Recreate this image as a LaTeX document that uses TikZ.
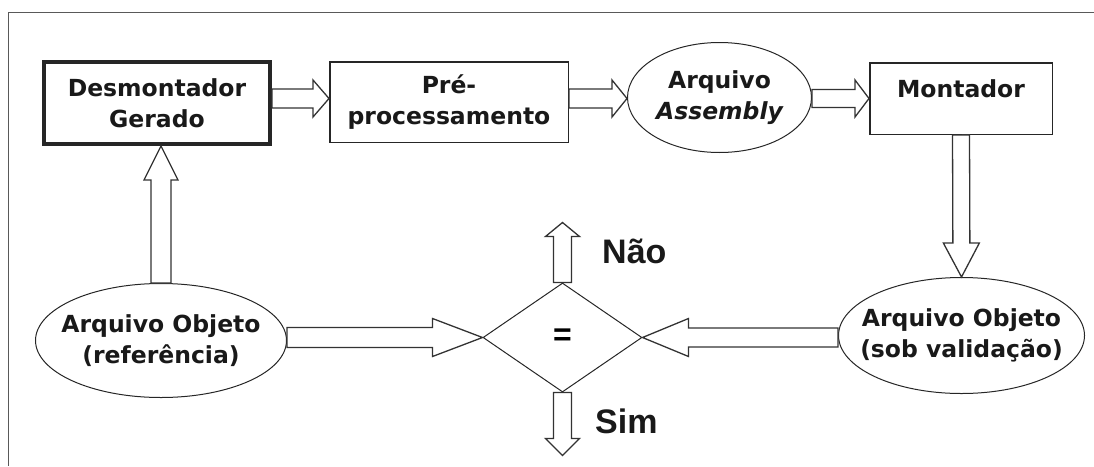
\documentclass[tikz,border=0pt]{standalone}
\usepackage{fontspec}
\setmainfont{DejaVu Sans}
\newfontfamily\arialfont{Liberation Sans}
\usetikzlibrary{shapes.geometric,calc}
\newcommand{\zw}[1]{\makebox[0pt]{#1}}
\newcommand{\blockarrow}[5]{%
  \coordinate (ba-s) at (#1);
  \coordinate (ba-e) at (#2);
  \coordinate (ba-h) at ($(ba-e)!#5!(ba-s)$);
  \draw[barrow] ($(ba-s)!#3!90:(ba-e)$) -- ($(ba-h)!#3!90:(ba-e)$) -- ($(ba-h)!#4!90:(ba-e)$) -- (ba-e) -- ($(ba-h)!#4!-90:(ba-e)$) -- ($(ba-h)!#3!-90:(ba-e)$) -- ($(ba-s)!#3!-90:(ba-e)$) -- cycle;
}
\begin{document}
\begin{tikzpicture}[x=1pt,y=1pt,
  boxtxt/.style={font=\fontsize{23.5}{31}\selectfont\bfseries, text=black!90, align=center},
  procbox/.style={draw=black!85, line width=1.5pt, rectangle, inner sep=0pt, boxtxt},
  fileell/.style={draw=black!85, line width=1pt, ellipse, inner sep=0pt, boxtxt},
  barrow/.style={draw=black!80, line width=1.3pt, fill=white, line join=miter},
  lbl/.style={anchor=base west, inner sep=0pt, font=\arialfont\fontsize{34}{34}\selectfont\bfseries, text=black!90},
  frameline/.style={draw=black!65, line width=1pt}]
\useasboundingbox (0,0) rectangle (1094,-466);
\draw[frameline] (1094,-12) -- (8,-12) -- (8,-466);

\node[procbox, line width=4pt, minimum width=226, minimum height=82] (desm) at (157,-103) {Desmontador\\Gerado};
\node[procbox, minimum width=238.5, minimum height=80.5] (pre) at (449,-102) {Pré-\\processamento};
\node[fileell, minimum width=184, minimum height=110] (asm) at (719.5,-97.5) {\zw{Arquivo}\\\zw{\itshape Assembly}};
\node[procbox, minimum width=182.5, minimum height=71.5, text height=18pt, text depth=21pt] (mont) at (961,-98.5) {Montador};
\node[fileell, minimum width=251, minimum height=114] (ref) at (161,-340.5) {\zw{Arquivo Objeto}\\\zw{(referência)}};
\node[fileell, minimum width=246, minimum height=116] (val) at (961.5,-335.5) {\zw{Arquivo Objeto}\\\zw{(sob validação)}};
\node[diamond, draw=black!85, line width=1pt, inner sep=0pt, minimum width=159, minimum height=109, font=\arialfont\fontsize{32}{32}\selectfont\bfseries] (dia) at (562.5,-337.5) {=};

\coordinate (row) at (0,-98.5);
\blockarrow{desm.east |- row}{pre.west |- row}{9.5pt}{18.5pt}{16pt}
\blockarrow{pre.east |- row}{asm.west |- row}{9.5pt}{18.5pt}{15pt}
\blockarrow{asm.east |- row}{mont.west |- row}{9pt}{18.5pt}{14pt}
\blockarrow{mont.south}{val.north}{8.5pt}{18pt}{34pt}
\blockarrow{ref.north}{desm.south -| ref.north}{10pt}{17pt}{34pt}
\blockarrow{ref.east |- dia.west}{dia.west}{10pt}{19pt}{50pt}
\blockarrow{val.west |- dia.east}{dia.east}{9.5pt}{19pt}{46pt}
\coordinate (naotip) at ($(dia.north)+(0,60)$);
\blockarrow{dia.north}{naotip}{9pt}{17pt}{14pt}
\coordinate (simtip) at ($(dia.south)+(0,-63)$);
\blockarrow{dia.south}{simtip}{9pt}{17pt}{17pt}

\node[lbl] (nao) at (602,-263) {Não};
\node[lbl] (sim) at (595,-433) {Sim};
\end{tikzpicture}
\end{document}
